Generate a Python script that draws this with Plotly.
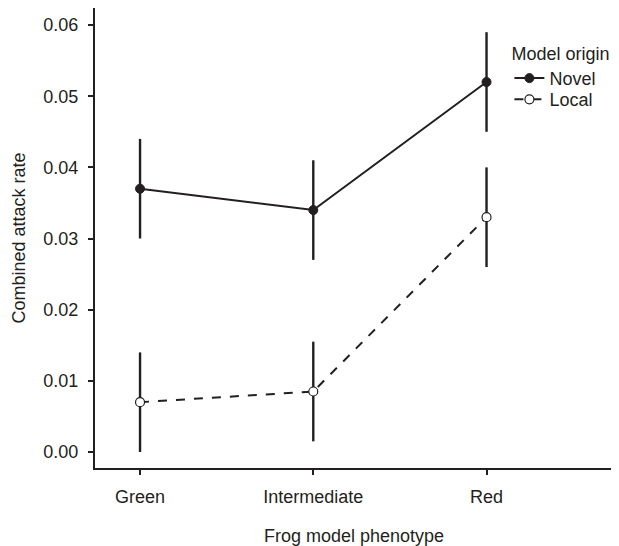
import plotly.graph_objects as go

categories = ["Green", "Intermediate", "Red"]
novel_mean = [0.037, 0.034, 0.052]
novel_err = [0.007, 0.007, 0.007]
local_mean = [0.007, 0.0085, 0.033]
local_err = [0.007, 0.007, 0.007]
y_ticks = [0.00, 0.01, 0.02, 0.03, 0.04, 0.05, 0.06]

xpos = list(range(len(categories)))
ink = "#231f20"

fig = go.Figure()
fig.add_trace(go.Scatter(
    x=xpos, y=novel_mean, name="Novel", mode="lines+markers", legend="legend",
    line=dict(color=ink, width=2, dash="solid"),
    marker=dict(symbol="circle", size=9, color=ink, line=dict(color=ink, width=1)),
    error_y=dict(type="data", array=novel_err, visible=True, width=0, thickness=2.4, color=ink),
))
fig.add_trace(go.Scatter(
    x=xpos, y=local_mean, name="Local", mode="lines+markers", legend="legend2",
    line=dict(color=ink, width=2, dash="dash"),
    marker=dict(symbol="circle", size=9, color="white", line=dict(color=ink, width=1.2)),
    error_y=dict(type="data", array=local_err, visible=True, width=0, thickness=2.4, color=ink),
))

font = "Liberation Sans, Arial, sans-serif"
fig.update_layout(
    width=611, height=538,
    margin=dict(l=87, r=6, t=0, b=78, autoexpand=False),
    paper_bgcolor="white", plot_bgcolor="white",
    font=dict(family=font, size=18, color=ink),
    showlegend=True,
    legend=dict(
        title=dict(text="Model origin", font=dict(size=18)),
        x=0.80, y=0.938, xanchor="left", yanchor="top",
        bgcolor="rgba(0,0,0,0)", font=dict(size=18),
        itemwidth=30,
    ),
    legend2=dict(
        x=0.80, y=0.841, xanchor="left", yanchor="top",
        bgcolor="rgba(0,0,0,0)", font=dict(size=18),
        itemwidth=30,
    ),
    xaxis=dict(
        range=[-0.26, 2.73], tickmode="array", tickvals=xpos, ticktext=categories,
        showline=True, linecolor=ink, linewidth=2,
        ticks="outside", ticklen=5, tickwidth=1.5, tickcolor=ink,
        showgrid=False, zeroline=False, automargin=False,
        ticklabelstandoff=6,
        title=dict(text="Frog model phenotype", standoff=25, font=dict(size=18)),
        tickfont=dict(size=18),
    ),
    yaxis=dict(
        range=[-0.00225, 0.0624], tickmode="array", tickvals=y_ticks,
        tickformat=".2f",
        showline=True, linecolor=ink, linewidth=2,
        ticks="outside", ticklen=5, tickwidth=1.5, tickcolor=ink,
        showgrid=False, zeroline=False, automargin=False,
        ticklabelstandoff=6,
        title=dict(text="Combined attack rate", standoff=13, font=dict(size=18)),
        tickfont=dict(size=18),
    ),
)

fig.write_html("out.html")
